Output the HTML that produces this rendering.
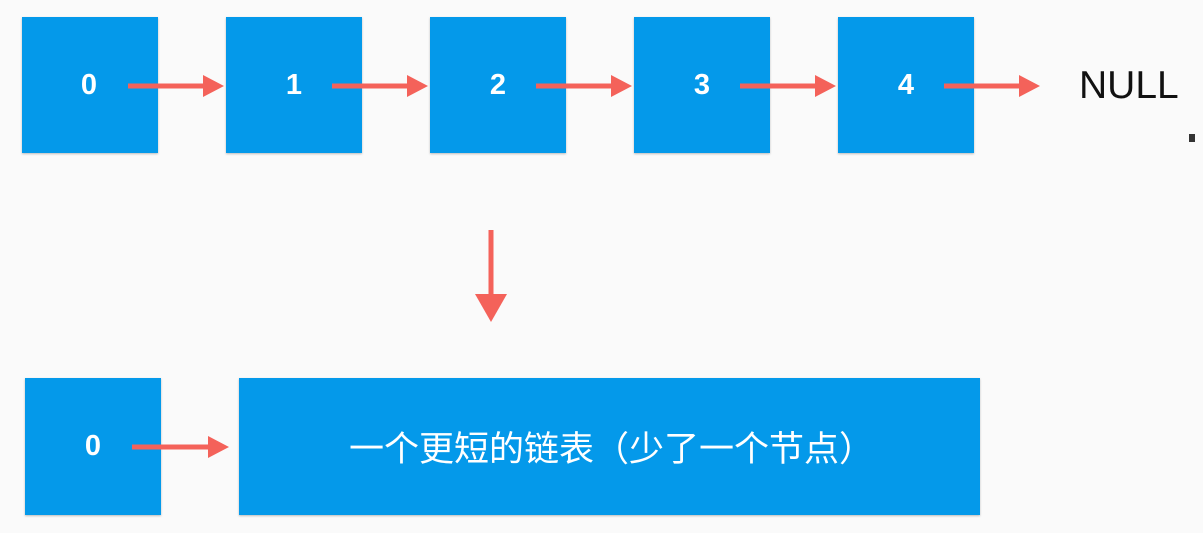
<!DOCTYPE html>
<html><head><meta charset="utf-8"><style>
body{margin:0;width:1203px;height:533px;background:#fafafa;position:relative;overflow:hidden;font-family:"Liberation Sans","Noto Sans CJK SC",sans-serif}
.b{position:absolute;background:#0499ea;color:#fff;display:flex;align-items:center;justify-content:center;font-size:29px;font-weight:bold;box-shadow:0 1px 2px rgba(0,0,0,.25)}
</style></head><body>
<div class="b" style="left:22px;top:17px;width:136px;height:136px"><span style="margin-left:-2px">0</span></div>
<div class="b" style="left:226px;top:17px;width:136px;height:136px">1</div>
<div class="b" style="left:430px;top:17px;width:136px;height:136px">2</div>
<div class="b" style="left:634px;top:17px;width:136px;height:136px">3</div>
<div class="b" style="left:838px;top:17px;width:136px;height:136px">4</div>
<div style="position:absolute;left:1079px;top:64px;font-size:39px;color:#111">NULL</div>
<div style="position:absolute;left:1189px;top:134px;width:6px;height:8px;background:#333"></div>
<div class="b" style="left:25px;top:378px;width:136px;height:137px">0</div>
<div class="b" style="left:239px;top:378px;width:741px;height:137px;font-weight:normal;font-size:35px;font-family:'Liberation Sans','Noto Sans CJK SC',sans-serif"><span style="margin-left:4px">一个更短的链表（少了一个节点）</span></div>
<svg width="1203" height="533" style="position:absolute;left:0;top:0">
<g fill="#f4625a" stroke="#f4625a">
<line x1="128" y1="86" x2="205" y2="86" stroke-width="5"/><polygon points="203,75 224,86 203,97" stroke="none"/>
<line x1="332" y1="86" x2="409" y2="86" stroke-width="5"/><polygon points="407,75 428,86 407,97" stroke="none"/>
<line x1="536" y1="86" x2="613" y2="86" stroke-width="5"/><polygon points="611,75 632,86 611,97" stroke="none"/>
<line x1="740" y1="86" x2="817" y2="86" stroke-width="5"/><polygon points="815,75 836,86 815,97" stroke="none"/>
<line x1="944" y1="86" x2="1021" y2="86" stroke-width="5"/><polygon points="1019,75 1040,86 1019,97" stroke="none"/>
<line x1="132" y1="447" x2="211" y2="447" stroke-width="5"/><polygon points="208,436 229,447 208,458" stroke="none"/>
<line x1="491" y1="230" x2="491" y2="298" stroke-width="5"/><polygon points="475,294 507,294 491,322" stroke="none"/>
</g></svg>
</body></html>
